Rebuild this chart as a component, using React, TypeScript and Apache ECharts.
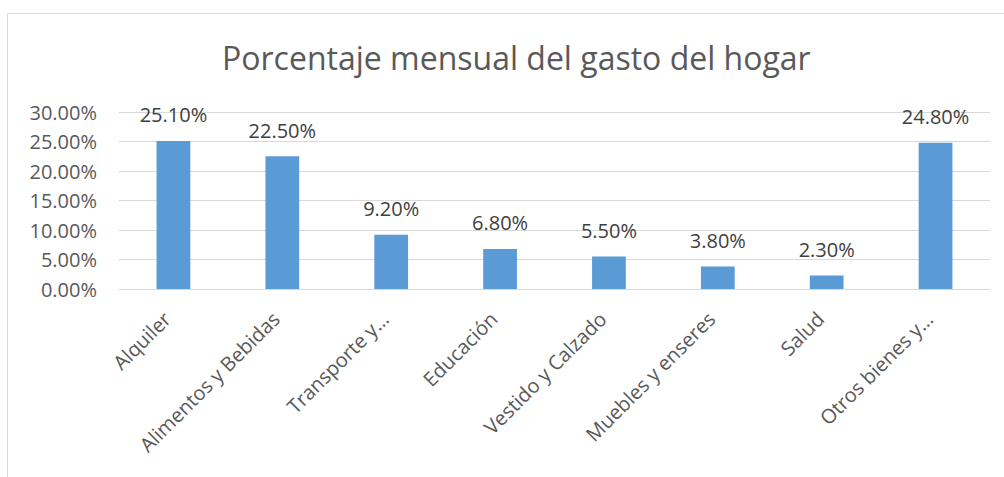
import React, { useEffect, useRef } from "react";
import * as echarts from "echarts";

const categories = [
  "Alquiler",
  "Alimentos y Bebidas",
  "Transporte y…",
  "Educación",
  "Vestido y Calzado",
  "Muebles y enseres",
  "Salud",
  "Otros bienes y…",
];
const values = [25.1, 22.5, 9.2, 6.8, 5.5, 3.8, 2.3, 24.8];
const yTicks = { min: 0, max: 30, interval: 5 };
const title = "Porcentaje mensual del gasto del hogar";

export default function App() {
  const ref = useRef<HTMLDivElement>(null);
  useEffect(() => {
    if (!ref.current) return;
    const chart = echarts.init(ref.current, null, { renderer: "svg" });
    const font = "'Open Sans', sans-serif";
    chart.setOption({
      animation: false,
      backgroundColor: "#ffffff",
      title: {
        text: title,
        left: 217,
        top: 36,
        textStyle: { fontFamily: font, fontSize: 32, fontWeight: "normal", color: "#595959" },
      },
      graphic: [
        {
          type: "rect",
          shape: { x: 7.5, y: 13.5, width: 1100, height: 500 },
          style: { fill: "none", stroke: "#D9D9D9", lineWidth: 1 },
          silent: true,
        },
      ],
      grid: { left: 119, right: 14, top: 112, bottom: 188 },
      xAxis: {
        type: "category",
        data: categories,
        axisLine: { lineStyle: { color: "#D9D9D9", width: 1 } },
        axisTick: { show: false },
        axisLabel: {
          rotate: 45,
          interval: 0,
          margin: 20,
          padding: [0, 9, 0, 0],
          fontFamily: font,
          fontSize: 20,
          color: "#595959",
        },
      },
      yAxis: {
        type: "value",
        min: yTicks.min,
        max: yTicks.max,
        interval: yTicks.interval,
        axisLine: { show: false },
        axisTick: { show: false },
        splitLine: { lineStyle: { color: "#D9D9D9", width: 1 } },
        axisLabel: {
          margin: 22,
          fontFamily: font,
          fontSize: 20,
          color: "#595959",
          formatter: (v: number) => v.toFixed(2) + "%",
        },
      },
      series: [
        {
          type: "bar",
          data: values,
          barWidth: "31%",
          itemStyle: { color: "#5B9BD5" },
          label: {
            show: true,
            position: "top",
            distance: 16,
            fontFamily: font,
            fontSize: 20,
            color: "#404040",
            formatter: (p: any) => Number(p.value).toFixed(2) + "%",
          },
        },
      ],
    });
    return () => chart.dispose();
  }, []);
  return (
    <div
      ref={ref}
      style={{ position: "absolute", left: 0, top: 0, width: 1004, height: 477 }}
    />
  );
}
